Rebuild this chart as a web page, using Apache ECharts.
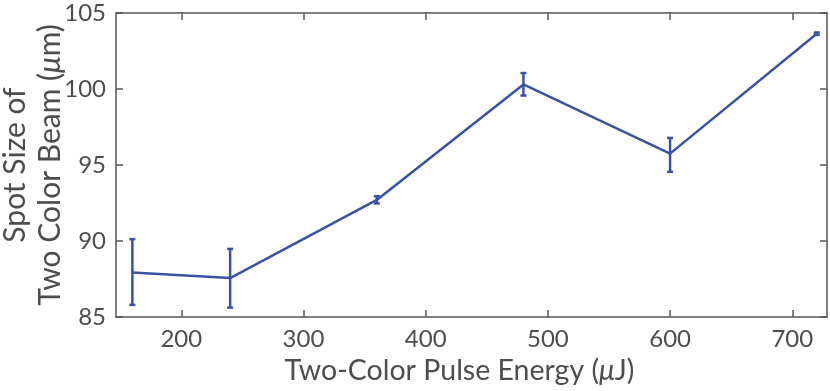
<!DOCTYPE html>
<html>
<head>
<meta charset="utf-8">
<script src="https://cdn.jsdelivr.net/npm/echarts@6/dist/echarts.min.js"></script>
<style>html,body{margin:0;padding:0;background:#fff}#c{width:830px;height:391px}</style>
</head>
<body>
<div id="c"></div>
<script>
const energy = [160, 240, 360, 480, 600, 720];
const spotSize = [87.93, 87.56, 92.7, 100.3, 95.75, 103.63];
const errLow = [85.8, 85.62, 92.47, 99.57, 94.55, 103.56];
const errHigh = [90.12, 89.48, 92.95, 101.05, 96.78, 103.72];
const xTicks = [200, 300, 400, 500, 600, 700];
const yTicks = [85, 90, 95, 100, 105];

const FONT = 'Lato';
const TXT = '#4d4d4d';
const AX = '#555555';
const BLUE = '#3953a4';

const lineData = energy.map((e, i) => [e, spotSize[i]]);
const errData = energy.map((e, i) => [e, errLow[i], errHigh[i]]);

const chart = echarts.init(document.getElementById('c'));
const axisCommon = {
  axisLine: {show: true, onZero: false, lineStyle: {color: AX, width: 1.5}},
  axisTick: {show: true, inside: true, length: 7, lineStyle: {color: AX, width: 1.5}},
  splitLine: {show: false}
};
chart.setOption({
  animation: false,
  grid: {left: 116, top: 13, right: 3, bottom: 74, containLabel: false, outerBoundsMode: 'none'},
  xAxis: [
    Object.assign({}, axisCommon, {
      type: 'value', min: 146.6, max: 728.4, position: 'bottom',
      axisTick: Object.assign({}, axisCommon.axisTick, {customValues: xTicks}),
      axisLabel: {customValues: xTicks, color: TXT, fontFamily: FONT, fontSize: 24, margin: 10},
      name: 'Two-Color Pulse Energy ({i|μ}J)', nameLocation: 'middle', nameGap: 39,
      nameMoveOverlap: false,
      nameTextStyle: {color: TXT, fontFamily: FONT, fontSize: 28.5, padding: [0, 24, 0, 0],
        rich: {i: {fontStyle: 'italic', color: TXT, fontFamily: FONT, fontSize: 28.5}}}
    }),
    Object.assign({}, axisCommon, {
      type: 'value', min: 146.6, max: 728.4, position: 'top',
      axisTick: Object.assign({}, axisCommon.axisTick, {customValues: xTicks}),
      axisLabel: {show: false}
    })
  ],
  yAxis: [
    Object.assign({}, axisCommon, {
      type: 'value', min: 85, max: 105, interval: 5, position: 'left',
      axisLabel: {color: TXT, fontFamily: FONT, fontSize: 24, margin: 10,
        formatter: v => yTicks.includes(v) ? String(v) : ''},
      name: 'Spot Size of\nTwo Color Beam ({i|μ}m)', nameLocation: 'middle', nameGap: 48,
      nameRotate: 90, nameMoveOverlap: false,
      nameTextStyle: {color: TXT, fontFamily: FONT, fontSize: 30, lineHeight: 35,
        rich: {i: {fontStyle: 'italic', color: TXT, fontFamily: FONT, fontSize: 30, lineHeight: 35}}}
    }),
    Object.assign({}, axisCommon, {
      type: 'value', min: 85, max: 105, interval: 5, position: 'right',
      axisLabel: {show: false}
    })
  ],
  series: [
    {
      type: 'line', data: lineData, xAxisIndex: 0, yAxisIndex: 0,
      symbol: 'none', lineStyle: {color: BLUE, width: 2.5}, z: 3
    },
    {
      type: 'custom', data: errData, xAxisIndex: 0, yAxisIndex: 0, z: 4,
      renderItem: function (params, api) {
        const x = api.value(0);
        const lo = api.coord([x, api.value(1)]);
        const hi = api.coord([x, api.value(2)]);
        const hw = 3;
        const style = {stroke: BLUE, lineWidth: 2.5};
        return {
          type: 'group',
          children: [
            {type: 'line', shape: {x1: lo[0], y1: lo[1], x2: hi[0], y2: hi[1]}, style: style},
            {type: 'line', shape: {x1: lo[0] - hw, y1: lo[1], x2: lo[0] + hw, y2: lo[1]}, style: style},
            {type: 'line', shape: {x1: hi[0] - hw, y1: hi[1], x2: hi[0] + hw, y2: hi[1]}, style: style}
          ]
        };
      }
    }
  ]
});
</script>
</body>
</html>
